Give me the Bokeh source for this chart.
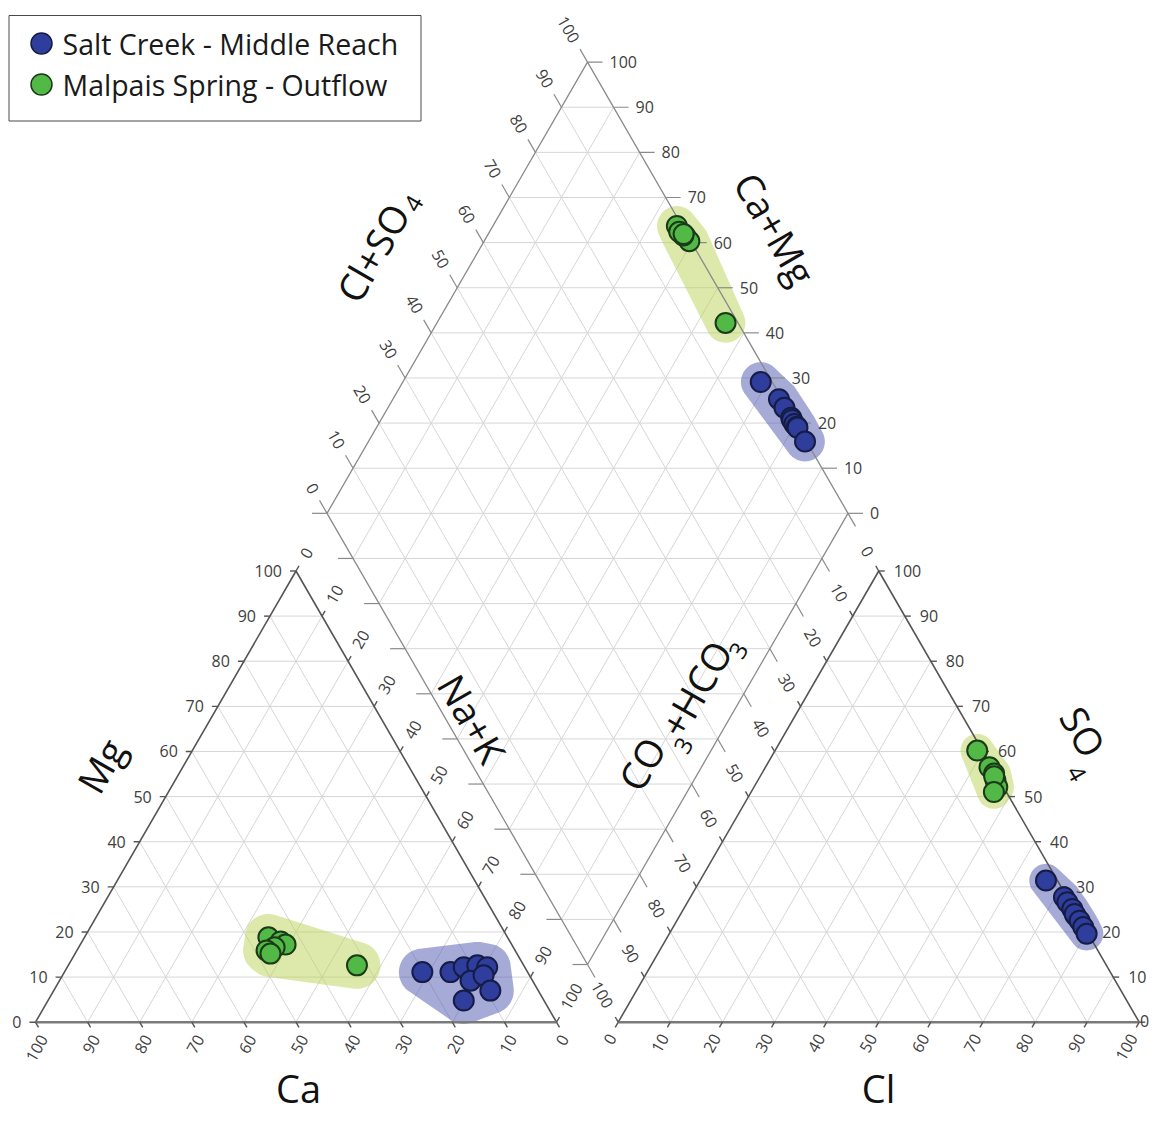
import math
import numpy as np
from bokeh.plotting import figure
from bokeh.models import Range1d
from bokeh.embed import file_html
from bokeh.resources import INLINE
from bokeh.core.properties import value

# ---------------- data (percent of meq) ----------------
series_names = ["Salt Creek - Middle Reach", "Malpais Spring - Outflow"]

salt_ca = [20.2, 14.8, 11.7, 8.9, 11.9, 15.4, 7.2, 8.8, 9.2]
salt_mg = [11.1, 11.1, 12.2, 12.6, 9.2, 4.8, 12.2, 10.4, 7.0]
salt_nak = [68.7, 74.1, 76.1, 78.5, 78.9, 79.8, 80.6, 80.8, 83.8]
salt_hco3 = [2.2, 0.6, 0.5, 0.3, 0.4, 0.4, 0.2, 0.2, 0.3]
salt_so4 = [31.4, 27.7, 26.6, 25.1, 23.6, 24.0, 22.5, 21.1, 19.6]
salt_cl = [66.4, 71.7, 72.9, 74.6, 76.0, 75.6, 77.3, 78.7, 80.1]

mal_ca = [45.9, 44.0, 43.4, 45.8, 47.7, 47.3, 32.0]
mal_mg = [18.8, 17.9, 17.2, 16.6, 15.9, 15.2, 12.6]
mal_nak = [35.3, 38.1, 39.4, 37.6, 36.4, 37.5, 55.4]
mal_hco3 = [1.0, 0.5, 0.3, 0.8, 1.2, 0.6, 2.4]
mal_so4 = [60.2, 56.5, 55.1, 53.6, 52.1, 54.5, 51.0]
mal_cl = [38.8, 43.0, 44.6, 45.6, 46.7, 44.9, 46.6]

tick_values = [0, 10, 20, 30, 40, 50, 60, 70, 80, 90, 100]
tick_labels = [str(v) for v in tick_values]

# ---------------- layout ----------------
K = 5.21                 # screen px per percent unit
OX, OY = 35.0, 1021.7    # screen position of the cation triangle's lower-left corner
H = math.sqrt(3) / 2
X0 = 111.85              # anion triangle offset
BX, BY = 105.95, 11.07   # diamond bottom vertex
W, HT = 1150, 1121

FONT = value("Open Sans")
GRID = "#d6d6d6"
EDGE = "#555555"
TICKC = "#404040"
BLUE, BLUE_LINE = "#2f3d9c", "#151c45"
GREEN, GREEN_LINE = "#52b947", "#1b3a17"


def off(dx, dy):
    return dx / K, -dy / K


def at(xp, yp):
    return (xp - OX) / K, (OY - yp) / K


def tri(xo, r, t):
    return xo + r + t / 2, t * H


def dia(a, c):
    return BX + 0.5 * (a - c), BY + H * (a + c)


def cation_xy(ca, mg, nak):
    xs, ys = [], []
    for c, m, n in zip(ca, mg, nak):
        s = c + m + n
        x, y = tri(0, 100 * n / s, 100 * m / s)
        xs.append(x); ys.append(y)
    return xs, ys


def anion_xy(hco3, so4, cl):
    xs, ys = [], []
    for h, s4, c in zip(hco3, so4, cl):
        s = h + s4 + c
        x, y = tri(X0, 100 * c / s, 100 * s4 / s)
        xs.append(x); ys.append(y)
    return xs, ys


def diamond_xy(ca, mg, nak, hco3, so4, cl):
    xs, ys = [], []
    for c1, m, n, h, s4, c2 in zip(ca, mg, nak, hco3, so4, cl):
        cat = 100 * (c1 + m) / (c1 + m + n)
        an = 100 * (s4 + c2) / (h + s4 + c2)
        x, y = dia(an, cat)
        xs.append(x); ys.append(y)
    return xs, ys


def rounded_hull(xs, ys, r, n=64):
    pts = set()
    for x, y in zip(xs, ys):
        for t in np.linspace(0, 2 * np.pi, n, endpoint=False):
            pts.add((round(x + r * math.cos(t), 6), round(y + r * math.sin(t), 6)))
    pts = sorted(pts)

    def cross(o, a, b):
        return (a[0] - o[0]) * (b[1] - o[1]) - (a[1] - o[1]) * (b[0] - o[0])
    lower, upper = [], []
    for p_ in pts:
        while len(lower) >= 2 and cross(lower[-2], lower[-1], p_) <= 0:
            lower.pop()
        lower.append(p_)
    for p_ in reversed(pts):
        while len(upper) >= 2 and cross(upper[-2], upper[-1], p_) <= 0:
            upper.pop()
        upper.append(p_)
    hull = lower[:-1] + upper[:-1]
    return [q[0] for q in hull], [q[1] for q in hull]


x_start = (0 - OX) / K
y_top = (OY - 0) / K
p = figure(width=W, height=HT, x_range=Range1d(x_start, x_start + W / K),
           y_range=Range1d(y_top - HT / K, y_top), toolbar_location=None,
           output_backend="svg", x_axis_location=None, y_axis_location=None,
           min_border=0)
p.xgrid.visible = False
p.ygrid.visible = False
p.outline_line_color = None
p.background_fill_color = "white"

# ---------------- grid ----------------
gx, gy = [], []


def seg(a, b, X, Y):
    X.append([a[0], b[0]]); Y.append([a[1], b[1]])


for k in range(10, 100, 10):
    for xo in (0, X0):
        seg(tri(xo, 0, k), tri(xo, 100 - k, k), gx, gy)
        seg(tri(xo, k, 0), tri(xo, k, 100 - k), gx, gy)
        seg(tri(xo, 100 - k, 0), tri(xo, 0, 100 - k), gx, gy)
    seg(dia(k, 0), dia(k, 100), gx, gy)
    seg(dia(0, k), dia(100, k), gx, gy)
for s in range(10, 200, 10):
    w = min(s, 200 - s)
    gx.append([BX - w / 2, BX + w / 2]); gy.append([BY + H * s, BY + H * s])
p.multi_line(gx, gy, line_color=GRID, line_width=1)

# ---------------- hulls ----------------
groups = [
    ("#4b55b0", salt_ca, salt_mg, salt_nak, salt_hco3, salt_so4, salt_cl),
    ("#b9d458", mal_ca, mal_mg, mal_nak, mal_hco3, mal_so4, mal_cl),
]
for hull_col, ca, mg, nak, hco3, so4, cl in groups:
    for (xs, ys), r in ((cation_xy(ca, mg, nak), 4.5),
                        (anion_xy(hco3, so4, cl), 3.2),
                        (diamond_xy(ca, mg, nak, hco3, so4, cl), 3.8)):
        hx, hy = rounded_hull(xs, ys, r)
        p.patch(hx, hy, fill_color=hull_col, fill_alpha=0.5, line_color=None)

# ---------------- edges ----------------
ex, ey = [], []
for xo in (0, X0):
    ex.append([tri(xo, 0, 0)[0], tri(xo, 0, 100)[0], tri(xo, 100, 0)[0]])
    ey.append([0, 100 * H, 0])
p.multi_line(ex, ey, line_color=EDGE, line_width=1.6)
p.multi_line([[0, 100], [X0, X0 + 100]], [[0, 0], [0, 0]], line_color="#7a7a7a", line_width=2.6)
dpts = [dia(0, 0), dia(100, 0), dia(100, 100), dia(0, 100), dia(0, 0)]
p.line([q[0] for q in dpts], [q[1] for q in dpts], line_color="#8a8a8a", line_width=1.3)

# ---------------- ticks & labels ----------------
tx, ty = [], []
dtx, dty = [], []
labels = {}


def add_label(key, xy, txt):
    labels.setdefault(key, {"x": [], "y": [], "t": []})
    labels[key]["x"].append(xy[0]); labels[key]["y"].append(xy[1]); labels[key]["t"].append(txt)


def tick(pnt, dpx, dpy, X, Y):
    o = off(dpx, dpy)
    X.append([pnt[0], pnt[0] + o[0]]); Y.append([pnt[1], pnt[1] + o[1]])


def shifted(pnt, dpx, dpy):
    o = off(dpx, dpy)
    return pnt[0] + o[0], pnt[1] + o[1]


for v, lab in zip(tick_values, tick_labels):
    # cation triangle
    q = tri(0, 0, v); tick(q, -6, 0, tx, ty); add_label(("right", 0), shifted(q, -14, 0), lab)
    q = tri(0, 100 - v, 0); tick(q, 3, 5.2, tx, ty); add_label(("right", 60), shifted(q, 8, 14), lab)
    q = tri(0, v, 100 - v); tick(q, 3, -5.2, tx, ty); add_label(("left", 60), shifted(q, 8, -13.9), lab)
    # anion triangle (the corner label is pulled in so that it stays inside the page)
    q = tri(X0, 100 - v, v); tick(q, 6, 0, tx, ty)
    if v > 0:
        add_label(("left", 0), shifted(q, 15, 0), lab)
    else:
        add_label(("right", 0), shifted(q, 10, -1), lab)
    q = tri(X0, v, 0); tick(q, -3, 5.2, tx, ty); add_label(("right", 60), shifted(q, -6, 13), lab)
    q = tri(X0, 0, 100 - v); tick(q, -3, -5.2, tx, ty); add_label(("right", -60), shifted(q, -9, -15.6), lab)
    # diamond
    q = dia(v, 100); tick(q, -7.5, -13, dtx, dty); add_label(("right", -60), shifted(q, -12, -20.8), lab)
    q = dia(100, v); tick(q, 15, 0, dtx, dty); add_label(("left", 0), shifted(q, 22, 0), lab)
    q = dia(0, v); tick(q, -15, 0, dtx, dty)
    q = dia(v, 0); tick(q, 7.5, 13, dtx, dty)

p.multi_line(tx, ty, line_color=EDGE, line_width=1.4)
p.multi_line(dtx, dty, line_color="#8a8a8a", line_width=1.2)
for (align, ang), d in labels.items():
    p.text(x=d["x"], y=d["y"], text=d["t"], angle=ang, angle_units="deg",
           text_align=align, text_baseline="middle", text_font=FONT,
           text_font_size="16px", text_color=TICKC)

# ---------------- axis titles ----------------
titles = [
    ("Ca", 298, 1087, 0, "38px"), ("Cl", 878, 1087, 0, "38px"),
    ("Mg", 100, 765, 60, "38px"), ("Na+K", 472, 718, -60, "38px"),
    ("Cl+SO", 372, 252, 60, "38px"), ("4", 413, 203, 60, "24px"),
    ("Ca+Mg", 775, 228, -60, "38px"),
    ("CO", 641, 763, 60, "38px"), ("3", 683, 745, 60, "24px"),
    ("+HCO", 695, 688, 60, "38px"), ("3", 738, 650, 60, "24px"),
    ("SO", 1083, 731, -60, "38px"), ("4", 1076, 773, -60, "24px"),
]
for txt, xp, yp, ang, fs in titles:
    x, y = at(xp, yp)
    p.text(x=[x], y=[y], text=[txt], angle=ang, angle_units="deg",
           text_align="center", text_baseline="middle", text_font=FONT,
           text_font_size=fs, text_color="#111111")

# ---------------- points ----------------
for fill, line, ca, mg, nak, hco3, so4, cl in [
        (BLUE, BLUE_LINE, salt_ca, salt_mg, salt_nak, salt_hco3, salt_so4, salt_cl),
        (GREEN, GREEN_LINE, mal_ca, mal_mg, mal_nak, mal_hco3, mal_so4, mal_cl)]:
    for xs, ys in (cation_xy(ca, mg, nak), anion_xy(hco3, so4, cl),
                   diamond_xy(ca, mg, nak, hco3, so4, cl)):
        p.scatter(xs, ys, size=20, fill_color=fill, line_color=line, line_width=2)

# ---------------- legend ----------------
lx0, ly0 = at(8.5, 15)
lx1, ly1 = at(420.5, 120.5)
p.quad(left=[lx0], right=[lx1], top=[ly0], bottom=[ly1], fill_color="white",
       line_color="#4a4a4a", line_width=1)
for i, (name, fill, line) in enumerate(zip(series_names, [BLUE, GREEN], [BLUE_LINE, GREEN_LINE])):
    yp = 43 + 41 * i
    mx, my = at(41, yp)
    p.scatter([mx], [my], size=21, fill_color=fill, line_color=line, line_width=1.5)
    tx_, ty_ = at(62, yp)
    p.text(x=[tx_], y=[ty_], text=[name], text_align="left", text_baseline="middle",
           text_font=FONT, text_font_size="28.5px", text_color="#1a1a1a")

open("out.html", "w").write(file_html(p, INLINE))
